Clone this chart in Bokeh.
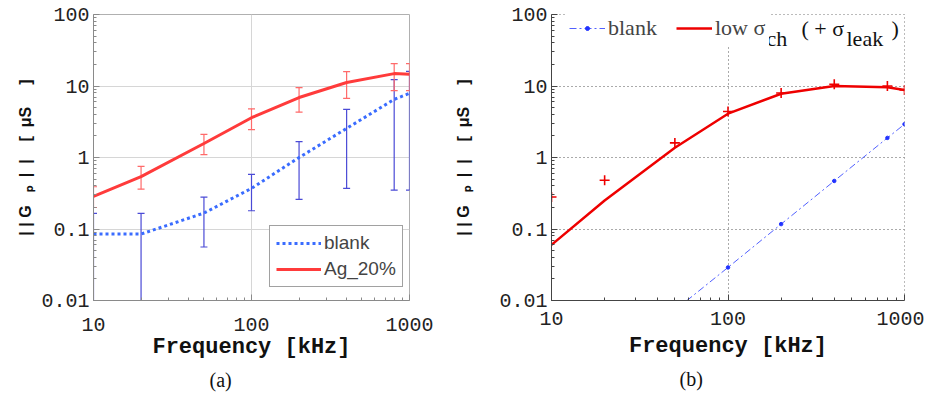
from bokeh.plotting import figure
from bokeh.layouts import row
from bokeh.models import (FixedTicker, CustomJSTickFormatter, Label, Legend,
                          LegendItem, Range1d, ColumnDataSource, Title)
from bokeh.core.properties import value
from bokeh.embed import file_html
from bokeh.resources import INLINE

# ---------------- data: panel (a) ----------------
freq_a = [10, 20, 50, 100, 200, 400, 800, 1000]
blank_a = [0.085, 0.085, 0.167, 0.37, 1.0, 2.55, 6.5, 7.9]
blank_a_hi = [0.165, 0.165, 0.28, 0.58, 1.67, 4.7, 12.3, 16.0]
blank_a_lo = [0.004, 0.004, 0.056, 0.18, 0.26, 0.37, 0.35, 0.35]
ag20 = [0.285, 0.54, 1.57, 3.6, 6.9, 11.2, 14.9, 14.6]
ag20_hi = [0.39, 0.75, 2.1, 4.8, 9.5, 15.9, 20.6, 20.6]
ag20_lo = [0.20, 0.36, 1.1, 2.46, 4.3, 6.7, 8.6, 8.6]

# ---------------- data: panel (b) ----------------
freq_b = [10, 20, 50, 100, 200, 400, 800, 1000]
low_meas = [0.28, 0.48, 1.6, 4.4, 8.0, 10.6, 10.0, 8.8]
low_fit = [0.060, 0.25, 1.37, 4.1, 7.8, 10.0, 9.6, 8.8]
freq_blank_b = [50, 100, 200, 400, 800, 1000]
blank_b = [0.0073, 0.029, 0.117, 0.47, 1.88, 2.92]

# ---------------- ticks / texts ----------------
major_x = [10, 100, 1000]
major_y = [0.01, 0.1, 1, 10, 100]
minor_x = [m * d for d in (10, 100) for m in range(2, 10)]
minor_y = [m * d for d in (0.01, 0.1, 1, 10) for m in range(2, 10)]
x_title = "Frequency [kHz]"
# non-breaking spaces keep the wide letter spacing of the original label
y_title = "| | G   ₚ  |  |    [  μS     ]".replace(" ", "\u00a0")

TICK_FONT = "Liberation Mono"
XLAB_FONT = "Liberation Mono"
YLAB_FONT = "Liberation Sans"


def make_fig(w, h, bl, br, bt, bb):
    p = figure(width=w, height=h, x_axis_type="log", y_axis_type="log",
               x_range=Range1d(10, 1000), y_range=Range1d(0.01, 100),
               output_backend="svg", toolbar_location=None,
               min_border_left=bl, min_border_right=br,
               min_border_top=bt, min_border_bottom=bb)
    p.xaxis.ticker = FixedTicker(ticks=major_x, minor_ticks=minor_x)
    p.yaxis.ticker = FixedTicker(ticks=major_y, minor_ticks=minor_y)
    p.xaxis.formatter = CustomJSTickFormatter(code="return tick.toString();")
    p.yaxis.formatter = CustomJSTickFormatter(code="return tick.toString();")
    for ax in (p.xaxis[0], p.yaxis[0]):
        ax.major_tick_in = 6
        ax.major_tick_out = 0
        ax.minor_tick_in = 3
        ax.minor_tick_out = 0
        ax.major_label_text_font = TICK_FONT
        ax.major_label_text_font_size = "20px"
        ax.major_label_text_color = "#222222"
    p.xaxis.axis_label = x_title
    p.xaxis.axis_label_text_font = XLAB_FONT
    p.xaxis.axis_label_text_font_style = "bold"
    p.xaxis.axis_label_text_font_size = "22px"
    p.xaxis.axis_label_text_color = "#111111"
    p.yaxis.axis_label = y_title
    p.yaxis.axis_label_text_font = YLAB_FONT
    p.yaxis.axis_label_text_font_style = "bold"
    p.yaxis.axis_label_text_font_size = "16px"
    p.yaxis.axis_label_text_color = "#111111"
    p.yaxis.major_label_standoff = 4
    p.background_fill_color = "white"
    p.border_fill_color = "white"
    return p


def caption(p, text, offset):
    p.add_layout(Title(text=text, align="left", offset=offset,
                       text_font="Liberation Serif", text_font_size="20px",
                       text_font_style="normal", text_color="#111111",
                       standoff=9), "below")


# ================= panel (a) =================
pa = make_fig(452, 395, 93, 43, 14, 95)
pa.xgrid.grid_line_color = "#d6d6d6"
pa.ygrid.grid_line_color = "#d6d6d6"
pa.outline_line_color = "#b0b0b0"
for ax in (pa.xaxis[0], pa.yaxis[0]):
    ax.axis_line_color = "#8a8a8a"
    ax.major_tick_line_color = "#8a8a8a"
    ax.minor_tick_line_color = "#8a8a8a"
pa.xaxis.major_label_standoff = 17
pa.xaxis.axis_label_standoff = 1
pa.yaxis.axis_label_standoff = 4

src_ab = ColumnDataSource(dict(x=freq_a, lo=blank_a_lo, hi=blank_a_hi))
src_ag = ColumnDataSource(dict(x=freq_a, lo=ag20_lo, hi=ag20_hi))
ebc_b = "#4a4ad6"
ebc_r = "#ff6a6a"
pa.segment(x0="x", y0="lo", x1="x", y1="hi", source=src_ab, line_color=ebc_b, line_width=1.2)
pa.scatter(x="x", y="lo", source=src_ab, marker="dash", size=7, line_color=ebc_b, line_width=1.2)
pa.scatter(x="x", y="hi", source=src_ab, marker="dash", size=7, line_color=ebc_b, line_width=1.2)
pa.segment(x0="x", y0="lo", x1="x", y1="hi", source=src_ag, line_color=ebc_r, line_width=1.2)
pa.scatter(x="x", y="lo", source=src_ag, marker="dash", size=7, line_color=ebc_r, line_width=1.2)
pa.scatter(x="x", y="hi", source=src_ag, marker="dash", size=7, line_color=ebc_r, line_width=1.2)

bl_line = pa.line(freq_a, blank_a, line_color="#3a6cff", line_width=3, line_dash="3 3")
ag_line = pa.line(freq_a, ag20, line_color="#ff3b3b", line_width=3)

leg_a = Legend(items=[LegendItem(label=value("blank"), renderers=[bl_line]),
                      LegendItem(label=value("Ag_20%"), renderers=[ag_line])],
               location=(176, 13), orientation="vertical",
               label_text_font="Liberation Sans", label_text_font_size="19px",
               glyph_width=45, glyph_height=22, label_height=22,
               label_standoff=3, spacing=4, padding=6, margin=0,
               border_line_color="#444444", border_line_width=1,
               background_fill_color="white", background_fill_alpha=1)
pa.add_layout(leg_a)
caption(pa, "(a)", 116)

# ================= panel (b) =================
pb = make_fig(472, 395, 96, 20, 10, 93)
for g in (pb.xgrid[0], pb.ygrid[0]):
    g.grid_line_color = "#555555"
    g.grid_line_dash = "1 3"
    g.grid_line_width = 1
pb.outline_line_color = "#777777"
pb.outline_line_dash = "1 3"
for ax in (pb.xaxis[0], pb.yaxis[0]):
    ax.axis_line_color = "#444444"
    ax.major_tick_line_color = "#444444"
    ax.minor_tick_line_color = "#444444"
pb.xaxis.major_label_standoff = 11
pb.xaxis.axis_label_standoff = 6
pb.yaxis.axis_label_standoff = 24

blank_b_line = pb.line(freq_blank_b, blank_b, line_color="#3344ff", line_width=1,
                       line_dash="7 3 2 3", line_alpha=0.85)
blank_b_pts = pb.scatter(freq_blank_b, blank_b, marker="circle", size=3.5,
                         fill_color="#2233ff", line_color="#2233ff")
low_line = pb.line(freq_b, low_fit, line_color="#ee0000", line_width=2.5)
pb.scatter(freq_b, low_meas, marker="cross", size=10, line_color="#ee0000", line_width=1.6)

leg_b = Legend(items=[LegendItem(label=value("blank"), renderers=[blank_b_line, blank_b_pts]),
                      LegendItem(label=value("low σ"), renderers=[low_line])],
               location=(14, 255), orientation="horizontal",
               label_text_font="Liberation Serif", label_text_font_size="22px",
               glyph_width=36, glyph_height=10, label_height=26,
               label_standoff=3, spacing=19, padding=4, margin=0,
               border_line_alpha=0, background_fill_color="white",
               background_fill_alpha=1)
pb.add_layout(leg_b)

serif = dict(x_units="screen", y_units="screen", text_align="left",
             text_baseline="middle", text_font="Liberation Serif",
             text_font_size="22px", text_color="#111111")
pb.add_layout(Label(x=215, y=262, text="ch", **serif))
pb.add_layout(Label(x=250, y=272, text="( + σ", **serif))
pb.add_layout(Label(x=295, y=262, text="leak", **serif))
pb.add_layout(Label(x=340, y=272, text=")", **serif))
caption(pb, "(b)", 128)

layout = row(pa, pb, spacing=0)
open("out.html", "w").write(file_html(layout, INLINE))
